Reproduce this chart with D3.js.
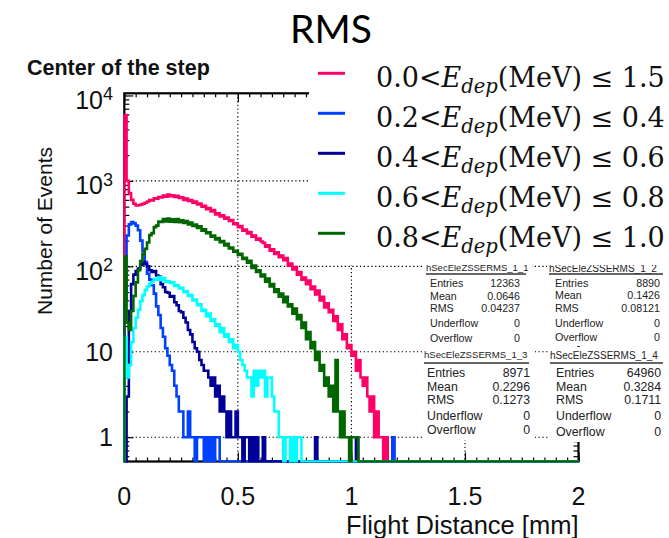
<!DOCTYPE html>
<html>
<head>
<meta charset="utf-8">
<script src="https://cdn.jsdelivr.net/npm/d3@7/dist/d3.min.js"></script>
<style>
  html, body { margin: 0; padding: 0; background: #fff; }
  svg { display: block; }
</style>
</head>
<body>
<svg id="chart" width="669" height="538"></svg>
<script>
// ---- data: counts per 0.01 mm bin, starting at 0 mm ----
const binWidth = 0.01;

const countsAll = [ // 0.0 < Edep <= 1.5
  5900, 1000, 720, 600, 540, 515, 518, 530, 540, 555,
  575, 598, 590, 625, 618, 648, 640, 676, 652, 690,
  662, 680, 648, 670, 630, 645, 600, 622, 584, 598,
  556, 572, 530, 545, 498, 512, 466, 480, 440, 455,
  405, 418, 385, 396, 362, 372, 340, 348, 312, 318,
  288, 296, 262, 270, 242, 252, 222, 230, 205, 212,
  195, 188, 170, 176, 152, 158, 140, 146, 128, 134,
  118, 125, 102, 108, 92, 98, 80, 86, 70, 74,
  62, 68, 54, 58, 47, 52, 40, 44, 33, 37,
  29, 31, 23, 26, 18, 21, 14, 16, 11, 12,
  9, 10, 6, 8, 5, 4, 5, 3, 2, 3,
  1, 2, 1, 1, 0, 1
];

const counts02 = [ // 0.2 < Edep <= 0.4
  40, 230, 310, 330, 318, 300, 265, 200, 150, 112,
  82, 70, 60, 48, 34, 27, 19, 15, 11, 9,
  7, 6, 4, 3, 2, 2, 1, 1, 2, 1,
  1, 0, 1, 1, 1, 0, 1, 0, 1, 0,
  1, 1, 0, 0, 0, 0, 0, 0, 0, 0,
  0, 0, 0, 0, 0, 0, 0, 0, 0, 0,
  0, 0, 0, 0, 0, 0, 0, 0, 0, 0,
  0, 0, 0, 0, 0, 0, 0, 0, 0, 0,
  0, 0, 0, 0, 0, 0, 0, 0, 0, 0,
  0, 0, 0, 0, 0, 0, 0, 0, 0, 0,
  0, 0, 0, 0, 0, 0, 0, 0, 0, 0,
  0, 0, 0, 0, 0, 0, 0, 0, 1
];

const counts04 = [ // 0.4 < Edep <= 0.6
  0, 3, 30, 62, 80, 88, 94, 104, 112, 106,
  100, 90, 86, 88, 78, 76, 62, 57, 50, 49,
  44, 45, 38, 35, 30, 29, 25, 22, 18, 16,
  13, 11, 10, 8, 7, 6, 6, 5, 4, 5,
  3, 4, 2, 3, 2, 1, 2, 1, 1, 2,
  1, 1, 0, 1, 1, 0, 1, 0, 1, 0,
  0, 1, 0, 0, 0, 0, 0, 0, 0, 0,
  0, 0, 0, 0, 0, 0, 0, 0, 0, 0,
  0, 0, 0, 0, 1, 0, 0, 0, 0, 0,
  0, 0, 0, 0, 0, 0, 0, 0, 0, 0,
  0, 0, 1
];

const counts06 = [ // 0.6 < Edep <= 0.8
  15, 5, 7, 13, 19, 25, 31, 39, 46, 53,
  58, 63, 66, 71, 70, 75, 69, 73, 66, 67,
  64, 65, 59, 60, 55, 56, 50, 51, 45, 46,
  40, 41, 35, 36, 30, 31, 26, 28, 23, 24,
  20, 21, 17, 19, 15, 16, 13, 14, 11, 12,
  10, 8, 7, 6, 5, 5, 3, 6, 4, 6,
  5, 6, 3, 5, 5, 3, 2, 2, 1, 1,
  0, 1, 1, 0, 1, 0, 1, 1
];

const counts08 = [ // 0.8 < Edep <= 1.0
  130, 22, 18, 30, 45, 65, 90, 115, 140, 160,
  190, 232, 245, 288, 300, 335, 330, 358, 336, 362,
  334, 356, 330, 358, 328, 346, 322, 338, 310, 326,
  298, 308, 282, 294, 262, 272, 244, 250, 222, 230,
  206, 214, 192, 198, 176, 184, 162, 166, 148, 152,
  136, 140, 122, 126, 110, 116, 96, 102, 86, 90,
  76, 80, 66, 72, 58, 62, 50, 54, 44, 48,
  38, 44, 34, 36, 28, 32, 24, 27, 19, 22,
  14, 17, 11, 13, 8, 10, 6, 7, 4, 5,
  3, 4, 2, 8, 2, 1, 2, 1, 1, 0,
  1, 1, 1
];

const seriesCounts = [countsAll, counts02, counts04, counts06, counts08];
const seriesColors = ["#ff0066", "#0040ff", "#000099", "#00ffff", "#006600"];
const legendLow  = ["0.0", "0.2", "0.4", "0.6", "0.8"];
const legendHigh = ["1.5", "0.4", "0.6", "0.8", "1.0"];

const xTickValues = [0, 0.5, 1, 1.5, 2];
const xTickLabels = ["0", "0.5", "1", "1.5", "2"];
const yTickValues = [1, 10, 100, 1000, 10000];
const yTickBase = ["1", "10", "10", "10", "10"];
const yTickExp  = ["", "", "2", "3", "4"];

const statNames   = ["hSecEleZSSERMS_1_1", "hSecEleZSSERMS_1_2", "hSecEleZSSERMS_1_3", "hSecEleZSSERMS_1_4"];
const statEntries = ["12363", "8890", "8971", "64960"];
const statMean    = ["0.0646", "0.1426", "0.2296", "0.3284"];
const statRMS     = ["0.04237", "0.08121", "0.1273", "0.1711"];
const statUnder   = ["0", "0", "0", "0"];
const statOver    = ["0", "0", "0", "0"];

// ---- layout ----
const svg = d3.select("#chart");
const frame = { left: 124.3, right: 578.5, top: 93.3, bottom: 461.5 };
const xMin = 0, xMax = 2, yMin = 0.52, yMax = 10600;

const x = d3.scaleLinear().domain([xMin, xMax]).range([frame.left, frame.right]);
const y = d3.scaleLog().domain([yMin, yMax]).range([frame.bottom, frame.top]);

const sans = "'Liberation Sans', Arial, Helvetica, sans-serif";

svg.append("defs").append("clipPath").attr("id", "plotClip")
  .append("rect")
  .attr("x", frame.left - 1).attr("y", frame.top)
  .attr("width", frame.right - frame.left + 2)
  .attr("height", frame.bottom - frame.top + 1);

// grid (dotted)
const grid = svg.append("g").attr("stroke", "#000").attr("stroke-width", 1.1)
  .attr("stroke-dasharray", "1.3,2.5");
grid.selectAll("line.gx").data(xTickValues.filter(v => v > xMin && v < xMax)).join("line")
  .attr("x1", d => x(d)).attr("x2", d => x(d))
  .attr("y1", frame.top).attr("y2", frame.bottom);
grid.selectAll("line.gy").data(yTickValues.filter(v => y(v) > frame.top + 3)).join("line")
  .attr("x1", frame.left).attr("x2", frame.right)
  .attr("y1", d => y(d)).attr("y2", d => y(d));

// frame
svg.append("rect")
  .attr("x", frame.left).attr("y", frame.top)
  .attr("width", frame.right - frame.left).attr("height", frame.bottom - frame.top)
  .attr("fill", "none").attr("stroke", "#000").attr("stroke-width", 2.2);

// ticks drawn with d3 axes, pointing into the frame
const xMinor = d3.range(0, 41).map(i => i * 0.05);
const yMinor = [];
for (let e = 0; e < 4; e++) for (let m = 2; m <= 9; m++) yMinor.push(m * Math.pow(10, e));
yMinor.push(0.6, 0.7, 0.8, 0.9);

function tickAxis(axis, tx, ty) {
  const g = svg.append("g").attr("transform", `translate(${tx},${ty})`).call(axis);
  g.select(".domain").remove();
  g.selectAll("text").remove();
  g.selectAll("line").attr("stroke", "#000").attr("stroke-width", 1.2);
  return g;
}
tickAxis(d3.axisBottom(x).tickValues(xMinor).tickSize(-4), 0, frame.bottom);
tickAxis(d3.axisBottom(x).tickValues(xTickValues).tickSize(-9), 0, frame.bottom);
tickAxis(d3.axisTop(x).tickValues(xMinor).tickSize(-4), 0, frame.top);
tickAxis(d3.axisTop(x).tickValues(xTickValues).tickSize(-9), 0, frame.top);
tickAxis(d3.axisLeft(y).tickValues(yMinor).tickSize(-5), frame.left, 0);
tickAxis(d3.axisLeft(y).tickValues(yTickValues).tickSize(-9), frame.left, 0);
tickAxis(d3.axisRight(y).tickValues(yMinor).tickSize(-5), frame.right, 0);
tickAxis(d3.axisRight(y).tickValues(yTickValues).tickSize(-9), frame.right, 0);

// histograms (step outlines, empty bins sit on the frame bottom)
const nBins = Math.round((xMax - xMin) / binWidth);
const stepLine = d3.line()
  .x(d => x(d[0]))
  .y(d => y(Math.max(d[1], yMin)))
  .curve(d3.curveStepAfter);

const histG = svg.append("g").attr("clip-path", "url(#plotClip)");
seriesCounts.forEach((counts, s) => {
  const pts = [[xMin, 0]];
  for (let i = 0; i < nBins; i++) pts.push([xMin + i * binWidth, counts[i] || 0]);
  pts.push([xMax, 0]);
  histG.append("path")
    .attr("d", stepLine(pts))
    .attr("fill", "none")
    .attr("stroke", seriesColors[s])
    .attr("stroke-width", 2.6)
    .attr("stroke-linejoin", "miter");
});

// tick labels
svg.append("g").selectAll("text").data(xTickValues).join("text")
  .attr("x", d => x(d)).attr("y", 505)
  .attr("text-anchor", "middle")
  .attr("font-family", sans).attr("font-size", 25).attr("fill", "#111")
  .text((d, i) => xTickLabels[i]);

// powers of ten sit a little lower than the plain labels
const yl = svg.append("g").selectAll("text").data(yTickValues).join("text")
  .attr("x", 113).attr("y", (d, i) => y(d) + (yTickExp[i] ? 13.5 : 9))
  .attr("text-anchor", "end")
  .attr("font-family", sans).attr("font-size", 25).attr("fill", "#111");
yl.append("tspan").text((d, i) => yTickBase[i]);
yl.append("tspan").attr("font-size", 18).attr("dy", -8.5)
  .text((d, i) => yTickExp[i]);

// axis titles
svg.append("text")
  .attr("transform", "translate(52,231) rotate(-90)")
  .attr("text-anchor", "middle")
  .attr("font-family", sans).attr("font-size", 21).attr("fill", "#111")
  .text("Number of Events");

svg.append("text")
  .attr("x", frame.right).attr("y", 534)
  .attr("text-anchor", "end")
  .attr("font-family", sans).attr("font-size", 25.5).attr("fill", "#111")
  .text("Flight Distance [mm]");

svg.append("text")
  .attr("x", 27).attr("y", 75)
  .attr("font-family", sans).attr("font-weight", "bold").attr("font-size", 21.5).attr("fill", "#111")
  .text("Center of the step");

// statistics boxes
const statBoxes = [
  { x: 424, y: 263, w: 108, h: 83, tx: 430, right: 520, fs: 10.7, ts: 9.5,
    title: 268, rule: 274, rows: [283, 296, 308.5, 323, 338] },
  { x: 547, y: 262, w: 122, h: 84, tx: 555, right: 660, fs: 10.7, ts: 10,
    title: 268, rule: 274, rows: [283, 295, 307.7, 323, 337] },
  { x: 422, y: 347, w: 113, h: 93, tx: 427, right: 530, fs: 12.3, ts: 9.6,
    title: 355, rule: 363, rows: [373, 386.5, 400, 415.5, 430] },
  { x: 548, y: 347, w: 121, h: 95, tx: 556, right: 661, fs: 12.3, ts: 10,
    title: 355, rule: 363, rows: [373, 386.5, 400, 415.5, 432] }
];
const statLabels = ["Entries", "Mean", "RMS", "Underflow", "Overflow"];
statBoxes.forEach((b, k) => {
  const g = svg.append("g").attr("font-family", sans).attr("fill", "#222");
  g.append("rect").attr("x", b.x).attr("y", b.y).attr("width", b.w).attr("height", b.h)
    .attr("fill", "#fff");
  g.append("text").attr("x", b.x + 2).attr("y", b.title + b.ts * 0.36)
    .attr("font-size", b.ts).text(statNames[k]);
  g.append("line").attr("x1", b.x + 2).attr("x2", b.x + b.w - 6)
    .attr("y1", b.rule).attr("y2", b.rule)
    .attr("stroke", "#333").attr("stroke-width", 1.6);
  const vals = [statEntries[k], statMean[k], statRMS[k], statUnder[k], statOver[k]];
  statLabels.forEach((lab, r) => {
    g.append("text").attr("x", b.tx).attr("y", b.rows[r] + b.fs * 0.36)
      .attr("font-size", b.fs).text(lab);
    g.append("text").attr("x", b.right).attr("y", b.rows[r] + b.fs * 0.36)
      .attr("text-anchor", "end").attr("font-size", b.fs).text(vals[r]);
  });
});

// legend
const leg = svg.append("g");
leg.append("rect").attr("x", 309).attr("y", 52).attr("width", 360).attr("height", 213)
  .attr("fill", "#fff");
const serif = "'DejaVu Serif', 'Liberation Serif', serif";
legendLow.forEach((lo, i) => {
  const cy = 73.3 + 40 * i;
  leg.append("line").attr("x1", 318).attr("x2", 345).attr("y1", cy).attr("y2", cy)
    .attr("stroke", seriesColors[i]).attr("stroke-width", 3);
  const t = leg.append("text").attr("x", 376).attr("y", 86.7 + 40 * i)
    .attr("font-family", serif).attr("font-size", 27).attr("fill", "#111");
  t.append("tspan").text(lo + "<");
  t.append("tspan").attr("font-style", "italic").text("E");
  t.append("tspan").attr("font-style", "italic").attr("font-size", 19.5).attr("dy", 6).text("dep");
  t.append("tspan").attr("dy", -6).text("(MeV) \u2264 " + legendHigh[i]);
});

// title
svg.append("text")
  .attr("x", 331).attr("y", 43)
  .attr("text-anchor", "middle")
  .attr("font-family", "Lato, 'Open Sans', sans-serif").attr("font-size", 39).attr("fill", "#000")
  .text("RMS");
</script>
</body>
</html>
